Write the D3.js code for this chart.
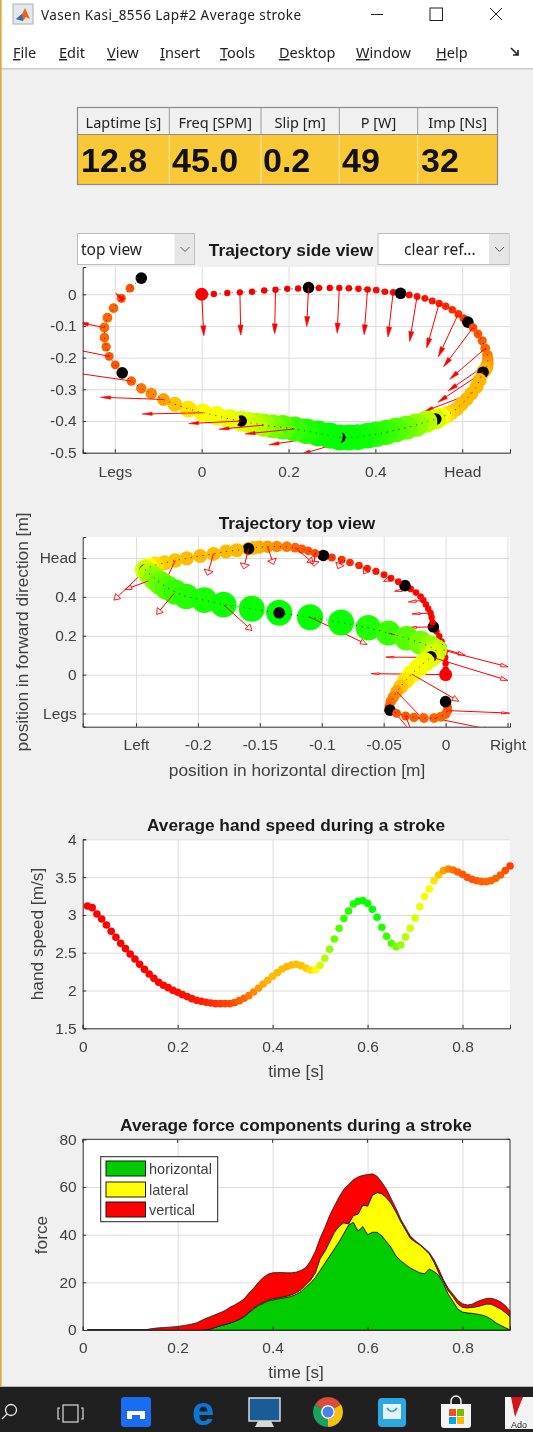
<!DOCTYPE html>
<html><head><meta charset="utf-8">
<script src="https://cdn.jsdelivr.net/npm/d3@7"></script>
<style>
html,body{margin:0;padding:0;background:#f0f0f0;overflow:hidden}
svg{display:block;filter:blur(0.35px)}
text{font-family:"Liberation Sans",Arial,sans-serif}
.ui{font-family:"Noto Sans",sans-serif}
</style></head><body>
<script>
// ---------- data ----------
const timeS=[.01,.02,.03,.04,.05,.06,.07,.08,.09,.10,.11,.12,.13,.14,.15,.16,.17,.18,.19,.20,.21,.22,.23,.24,.25,.26,.27,.28,.29,.30,.31,.32,.33,.34,.35,.36,.37,.38,.39,.40,.41,.42,.43,.44,.45,.46,.47,.48,.49,.50,.51,.52,.53,.54,.55,.56,.57,.58,.59,.60,.61,.62,.63,.64,.65,.66,.67,.68,.69,.70,.71,.72,.73,.74,.75,.76,.77,.78,.79,.80,.81,.82,.83,.84,.85,.86,.87,.88,.89,.90];
const forwardPos=[0,.028,.059,.088,.116,.144,.170,.197,.222,.246,.270,.295,.317,.339,.361,.382,.402,.422,.441,.458,.478,.496,.514,.531,.547,.562,.577,.591,.603,.613,.625,.636,.646,.653,.658,.659,.658,.656,.652,.648,.640,.633,.621,.610,.598,.587,.575,.564,.552,.539,.517,.494,.471,.448,.425,.402,.383,.360,.339,.318,.295,.268,.241,.214,.187,.164,.143,.126,.108,.091,.064,.034,.003,-.031,-.062,-.088,-.116,-.139,-.162,-.183,-.199,-.213,-.220,-.224,-.224,-.217,-.203,-.185,-.165,-.139];
const verticalPos=[0,.001,.004,.006,.008,.012,.014,.017,.018,.021,.020,.020,.020,.019,.017,.015,.013,.008,.006,.003,-.002,-.007,-.013,-.021,-.029,-.038,-.049,-.062,-.076,-.088,-.105,-.125,-.147,-.171,-.192,-.207,-.220,-.231,-.239,-.246,-.271,-.292,-.313,-.331,-.347,-.362,-.373,-.381,-.387,-.394,-.402,-.413,-.421,-.428,-.436,-.442,-.446,-.451,-.452,-.452,-.446,-.439,-.432,-.425,-.420,-.417,-.413,-.409,-.405,-.400,-.394,-.383,-.374,-.362,-.347,-.332,-.313,-.297,-.274,-.248,-.223,-.196,-.166,-.137,-.105,-.074,-.044,-.013,.019,.051];
const lateralPos=[0,0,0,-.0003,-.0008,-.0019,-.0032,-.0051,-.0073,-.0099,-.0105,-.0113,-.0121,-.0140,-.0159,-.0180,-.0202,-.0239,-.0282,-.0328,-.0382,-.0441,-.0497,-.0562,-.0632,-.0699,-.0772,-.0839,-.0919,-.0987,-.1054,-.1108,-.1161,-.1215,-.1282,-.1363,-.1438,-.1505,-.1551,-.1591,-.1685,-.1774,-.1874,-.1981,-.2089,-.2183,-.2269,-.2344,-.2398,-.2425,-.2390,-.2349,-.2304,-.2250,-.2183,-.2094,-.1949,-.1793,-.1565,-.1344,-.1094,-.0844,-.0624,-.0462,-.0315,-.0202,-.0126,-.0078,-.0086,-.0118,-.0167,-.0220,-.0274,-.0323,-.0363,-.0395,-.0422,-.0444,-.0454,-.0449,-.0395,-.0323,-.0255,-.0175,-.0094,-.0038,0,.0016,.0016,0];
const handSpeed=[3.118,3.096,3.012,2.946,2.867,2.783,2.704,2.624,2.554,2.483,2.417,2.347,2.280,2.219,2.161,2.108,2.069,2.038,2.003,1.976,1.945,1.919,1.892,1.870,1.857,1.844,1.835,1.826,1.826,1.826,1.826,1.840,1.866,1.897,1.932,1.981,2.029,2.086,2.135,2.188,2.236,2.285,2.316,2.338,2.347,2.329,2.298,2.272,2.276,2.333,2.426,2.545,2.682,2.823,2.951,3.052,3.145,3.180,3.189,3.153,3.074,2.968,2.836,2.717,2.624,2.580,2.602,2.708,2.823,2.959,3.109,3.242,3.343,3.453,3.528,3.586,3.608,3.594,3.568,3.537,3.497,3.471,3.453,3.440,3.440,3.453,3.484,3.528,3.586,3.647];
const forceHorizontal=[0,0,0,0,0,0,0,0,0,0,0,0,0,0,0,0,0,0,0,0,0,0,0,0,0,.1,.5,1.2,1.8,2.3,2.9,3.6,4.5,5.5,7.2,8.8,10.2,11.2,12.1,12.6,13,13.4,13.7,14.2,15,16.2,18,19.8,22,25,28,31,34,37,40.5,44,45.2,41.5,43.4,40,41,41,39.5,37,34.5,31,29,27.5,26,25,24,23.6,25.6,24.5,23,19.5,15,12,8.8,7.5,7.2,7,6.7,6.3,5.7,4.6,3,2,1,0];
const forceLateral=[0,0,0,0,0,0,0,0,0,0,0,0,0,0,0,0,0,0,0,0,0,0,0,0,0,0,0,0,0,0,0,0,0,.3,.3,.4,.4,.4,.4,.4,.4,.4,.5,.6,.7,.8,1,1.2,2,5,5,6,7,6.5,4.5,.5,2.8,7.2,9,12,15.5,16.7,17.7,18.5,18.5,18.5,16.5,14.5,12.5,12,11.7,10.4,6.4,4,1,1,1.5,2,2.2,2,2.1,2.5,3.1,4,5.2,6.3,6.9,6.9,6.4,5.6];
const forceVertical=[0,0,0,0,0,0,0,0,0,0,0,0,0,.4,.7,.9,1,1.2,1.3,1.5,1.8,2.1,2.5,3,4,4.8,5.2,5.3,5.5,5.9,6.6,6.9,7.2,7.2,8,8.3,9.4,10.4,10.9,11,10.7,10.3,9.8,9.2,8.6,8,7.2,8,9,8.5,10,11,11,12.3,14,16.5,15,15.5,12.5,13.2,9,6.8,4.8,3.5,2,1.5,1,1,1,.5,.3,.3,.5,1,1.5,.5,1,1,1.5,1.5,1.2,1.3,2.1,2.3,2.3,2.4,2.9,2.9,2.9,2.4];
// force arrows in metres, one for every third sample (t = .01, .04, ...)
const arrowForward=[.005,.002,-.002,-.004,-.005,-.008,-.012,-.017,-.029,-.046,-.068,-.082,-.091,-.104,-.110,-.109,-.169,-.057,-.115,-.133,-.140,-.114,-.103,-.121,-.140,-.145,-.150,-.090,-.060,-.013];
const arrowVertical=[-.131,-.135,-.139,-.123,-.143,-.143,-.141,-.142,-.141,-.135,-.124,-.097,-.085,-.095,-.058,-.040,-.060,-.030,-.040,-.055,-.029,-.016,-.013,-.008,-.004,.007,.030,.025,.016,.016];
const arrowLateral=[-.060,-.048,-.034,-.020,-.015,-.012,-.013,-.006,-.003,-.003,-.001,.015,.005,-.004,-.005,-.008,-.028,-.024,-.015,.023,.046,.062,.063,.062,.038,.022,.020,.0055,.0465,.050];
const tableHeaders=["Laptime [s]","Freq [SPM]","Slip [m]","P [W]","Imp [Ns]"];
const tableValues=["12.8","45.0","0.2","49","32"];
const menuItems=["File","Edit","View","Insert","Tools","Desktop","Window","Help"];
const legendNames=["horizontal","lateral","vertical"];
const sideXTicks=[-.2,0,.2,.4,.6], sideXLabels=["Legs","0","0.2","0.4","Head"];
const sideYTicks=[0,-.1,-.2,-.3,-.4,-.5], sideYLabels=["0","-0.1","-0.2","-0.3","-0.4","-0.5"];
const topXTicks=[-.25,-.2,-.15,-.1,-.05,0,.05], topXLabels=["Left","-0.2","-0.15","-0.1","-0.05","0","Right"];
const topYTicks=[-.2,0,.2,.4,.6], topYLabels=["Legs","0","0.2","0.4","Head"];
const timeTicks=[0,.2,.4,.6,.8], timeLabels=["0","0.2","0.4","0.6","0.8"];
const speedTicks=[1.5,2,2.5,3,3.5,4], speedLabels=["1.5","2","2.5","3","3.5","4"];
const forceTicks=[0,20,40,60,80], forceLabels=["0","20","40","60","80"];
const forceColors=["#00cc00","#ffff00","#ff0000"];

// ---------- page ----------
const W=533,H=1432;
const svg=d3.select("body").append("svg").attr("width",W).attr("height",H);
svg.append("rect").attr("width",W).attr("height",H).attr("fill","#f0f0f0");
const defs=svg.append("defs");
const DARK="#404040";

// derived force encodings
const stackKeys=[0,1,2];
const stackRows=timeS.map((t,i)=>({t,0:forceHorizontal[i],1:forceLateral[i],2:forceVertical[i]}));
const stacked=d3.stack().keys(stackKeys)(stackRows);
const totalForce=stacked[2].map(d=>d[1]);
const colorOf=d3.scaleLinear().domain([0,33,66]).range(["#ff0000","#ffff00","#00ff00"]).clamp(true);
const radiusOf=d3.scaleLinear().domain([0,10,24,33,45,65]).range([3.2,4.3,7,9.5,11.5,13]);

// window chrome
function chrome(){
  svg.append("rect").attr("width",W).attr("height",68).attr("fill","#fff");
  svg.append("rect").attr("y",68).attr("width",W).attr("height",1.5).attr("fill","#c9c9c9");
  svg.append("rect").attr("width",1.6).attr("height",1387).attr("fill","#e0a63c");
  const ic=svg.append("g");
  ic.append("rect").attr("x",13).attr("y",4).attr("width",20).attr("height",20).attr("fill","#e4e8ec").attr("stroke","#a8b0b8");
  ic.append("path").attr("d","M16 19 L22 14 L25 8 L30 19 L26 17 L23 21 Z").attr("fill","#e8651e");
  ic.append("path").attr("d","M16 19 L22 14 L23 21 Z").attr("fill","#2a6fb0");
  svg.append("text").attr("class","ui").attr("x",41).attr("y",20).attr("font-size",13.5).attr("fill","#222")
    .attr("textLength",260).text("Vasen Kasi_8556 Lap#2 Average stroke");
  svg.append("path").attr("d","M371 14.5H383").attr("stroke","#222").attr("fill","none");
  svg.append("rect").attr("x",430).attr("y",8).attr("width",12.5).attr("height",12.5).attr("fill","none").attr("stroke","#222");
  svg.append("path").attr("d","M490 8L502 20M502 8L490 20").attr("stroke","#222").attr("fill","none");
  const menuX=[13,59,107,160,220,279,356,436];
  const menu=svg.selectAll("text.menu").data(menuItems).join("text").attr("class","menu ui")
    .attr("x",(d,i)=>menuX[i]).attr("y",58).attr("font-size",14.5).attr("fill","#222");
  menu.append("tspan").attr("text-decoration","underline").text(d=>d[0]);
  menu.append("tspan").text(d=>d.slice(1));
  svg.append("path").attr("d","M511 48L518 55M518 50V55H513").attr("stroke","#222").attr("stroke-width",1.6).attr("fill","none");
}
chrome();

// metric table
function table(){
  const edges=[77.5,169.3,261,339.3,417.7,497.5];
  const g=svg.append("g");
  g.append("rect").attr("x",edges[0]).attr("y",135).attr("width",edges[5]-edges[0]).attr("height",49.5).attr("fill","#f8c836");
  g.append("rect").attr("x",edges[0]).attr("y",107.5).attr("width",edges[5]-edges[0]).attr("height",77).attr("fill","none").attr("stroke","#8c8c8c").attr("stroke-width",1.2);
  g.append("path").attr("d","M77.5 134.5H497.5").attr("stroke","#8c8c8c").attr("stroke-width",1.2);
  edges.slice(1,5).forEach(x=>{
    g.append("path").attr("d",`M${x} 108V134`).attr("stroke","#9a9a9a");
    g.append("path").attr("d",`M${x} 135V184`).attr("stroke","#f8e6b0");
  });
  tableHeaders.forEach((h,i)=>g.append("text").attr("class","ui").attr("x",(edges[i]+edges[i+1])/2).attr("y",128).attr("text-anchor","middle").attr("font-size",14.5).attr("fill","#222").text(h));
  const valX=[81,172,263,342,421];
  tableValues.forEach((v,i)=>g.append("text").attr("x",valX[i]).attr("y",172).attr("font-size",34).attr("font-weight","bold").attr("fill","#111").text(v));
}
table();

// dropdowns
function dropdown(x,w,label,tx){
  const g=svg.append("g");
  g.append("rect").attr("x",x).attr("y",233.5).attr("width",w).attr("height",31).attr("fill","#fff").attr("stroke","#bdbdbd");
  g.append("rect").attr("x",x+w-20).attr("y",234).attr("width",19.5).attr("height",30).attr("fill","#e6e6e6");
  g.append("path").attr("d",`M${x+w-14} 247l4.5 4.5l4.5-4.5`).attr("fill","none").attr("stroke","#555");
  g.append("text").attr("class","ui").attr("x",tx).attr("y",255).attr("font-size",15.5).attr("fill","#222").text(label);
}

// generic axes
function axes(o){
  const g=svg.append("g");
  const [l,r]=o.x.range(), [b,t]=o.y.range();
  g.append("rect").attr("x",l).attr("y",t).attr("width",r-l).attr("height",b-t).attr("fill","#fff");
  const gx=g.append("g").attr("transform",`translate(0,${b})`).call(d3.axisBottom(o.x).tickValues(o.xt).tickSize(-(b-t)).tickFormat(""));
  const gy=g.append("g").attr("transform",`translate(${l},0)`).call(d3.axisLeft(o.y).tickValues(o.yt).tickSize(-(r-l)).tickFormat(""));
  [gx,gy].forEach(a=>{a.select(".domain").remove();a.selectAll("line").attr("stroke","#dcdcdc").attr("stroke-width",1);});
  return g;
}
function frame(o,box){
  const g=svg.append("g");
  const [l,r]=o.x.range(), [b,t]=o.y.range();
  const ax=g.append("g").attr("transform",`translate(0,${b})`).call(d3.axisBottom(o.x).tickValues(o.xt).tickSize(-3.5).tickPadding(o.xpad).tickFormat((d,i)=>o.xl[i]));
  const ay=g.append("g").attr("transform",`translate(${l},0)`).call(d3.axisLeft(o.y).tickValues(o.yt).tickSize(-3.5).tickPadding(6).tickFormat((d,i)=>o.yl[i]));
  [ax,ay].forEach(a=>{
    a.select(".domain").attr("stroke","#333").attr("stroke-width",1);
    a.selectAll("line").attr("stroke","#333");
    a.selectAll("text").attr("font-size",15.5).attr("fill",DARK).attr("font-family","Liberation Sans");
  });
  if(box){
    g.append("path").attr("d",`M${l} ${t}H${r}V${b}`).attr("fill","none").attr("stroke","#333");
    o.xt.forEach(v=>g.append("path").attr("d",`M${o.x(v)} ${t}v3.5`).attr("stroke","#333"));
    o.yt.forEach(v=>g.append("path").attr("d",`M${r} ${o.y(v)}h-3.5`).attr("stroke","#333"));
  }
}
function title(txt,x,y){svg.append("text").attr("x",x).attr("y",y).attr("text-anchor","middle").attr("font-size",17.3).attr("font-weight","bold").attr("fill","#1a1a1a").text(txt);}
function xlabel(txt,x,y){svg.append("text").attr("x",x).attr("y",y).attr("text-anchor","middle").attr("font-size",17.3).attr("fill",DARK).text(txt);}
function ylabel(txt,x,y){svg.append("text").attr("transform",`translate(${x},${y}) rotate(-90)`).attr("text-anchor","middle").attr("font-size",17.3).attr("fill",DARK).text(txt);}

// trajectory view: samples, black tenth-second dots and force arrows in time order
function trajectory(o){
  const cid="clip"+o.id;
  const [l,r]=o.x.range(), [b,t]=o.y.range();
  defs.append("clipPath").attr("id",cid).append("rect").attr("x",l).attr("y",t).attr("width",r-l).attr("height",b-t);
  const items=[];
  const late=[];
  timeS.forEach((tt,i)=>{
    items.push({k:"mark",i});
    if((i+1)%10===0) items.push({k:"black",i});
    if(i%3===0){ (tt>=o.lateFrom?late:items).push({k:"arrow",i,a:i/3}); }
  });
  const g=svg.append("g");
  items.concat(late).forEach(d=>{
    const px=o.x(o.xv[d.i]),py=o.y(o.yv[d.i]);
    if(d.k==="mark"){
      g.append("circle").datum(d).attr("cx",px).attr("cy",py)
        .attr("r",d.i===0?6.5:radiusOf(totalForce[d.i])).attr("fill",colorOf(totalForce[d.i]));
    }else if(d.k==="black"){
      g.append("circle").datum(d).attr("cx",px).attr("cy",py).attr("r",5.8).attr("fill","#000");
    }else{
      const ex=o.x(o.xv[d.i]+o.dx[d.a]),ey=o.y(o.yv[d.i]+o.dy[d.a]);
      const L=Math.hypot(ex-px,ey-py)||1,ux=(ex-px)/L,uy=(ey-py)/L;
      const hl=o.headLen(uy),hw=o.headW(uy);
      const bx=ex-ux*hl,by=ey-uy*hl;
      const a=g.append("g").attr("clip-path",`url(#${cid})`);
      a.append("line").attr("x1",px).attr("y1",py).attr("x2",bx).attr("y2",by).attr("stroke","#ff0000").attr("stroke-width",1);
      a.append("path").attr("d",`M${ex} ${ey}L${bx-uy*hw} ${by+ux*hw}L${bx+uy*hw} ${by-ux*hw}Z`)
        .attr("fill",o.hollow?"none":"#ff0000").attr("stroke","#ff0000").attr("stroke-width",o.hollow?.9:.6);
    }
  });
  const line=d3.line().x((d,i)=>o.x(o.xv[i])).y((d,i)=>o.y(o.yv[i]));
  svg.append("path").attr("d",line(timeS)).attr("fill","none").attr("stroke","#000").attr("stroke-width",.8).attr("stroke-dasharray","1 5");
}

// side view
const sideO={x:d3.scaleLinear().domain([-.274,.71]).range([82.7,510]),y:d3.scaleLinear().domain([-.5,.086]).range([452.7,267]),
  xt:sideXTicks,xl:sideXLabels,yt:sideYTicks,yl:sideYLabels,xpad:13};
axes(sideO);
trajectory({id:"side",x:sideO.x,y:sideO.y,xv:forwardPos,yv:verticalPos,dx:arrowForward,dy:arrowVertical,hollow:false,lateFrom:.64,
  headLen:u=>10,headW:u=>1.5+Math.abs(u)});
frame(sideO,false);
dropdown(77.5,117,"top view",81);
dropdown(378,131,"clear ref...",404);
title("Trajectory side view",291,256);

// top view
const topO={x:d3.scaleLinear().domain([-.293,.052]).range([82.7,510]),y:d3.scaleLinear().domain([-.268,.708]).range([726.7,537]),
  xt:topXTicks,xl:topXLabels,yt:topYTicks,yl:topYLabels,xpad:12};
axes(topO);
trajectory({id:"top",x:topO.x,y:topO.y,xv:lateralPos,yv:forwardPos,dx:arrowLateral,dy:arrowForward,hollow:true,lateFrom:2,
  headLen:u=>8-3*Math.abs(u),headW:u=>.8+4*Math.abs(u)});
frame(topO,false);
title("Trajectory top view",297,529);
xlabel("position in horizontal direction [m]",297,776);
ylabel("position in forward direction [m]",28,632);

// speed
const speedO={x:d3.scaleLinear().domain([0,.9]).range([82.7,510]),y:d3.scaleLinear().domain([1.5,4]).range([1028.3,839.3]),
  xt:timeTicks,xl:timeLabels,yt:speedTicks,yl:speedLabels,xpad:13};
axes(speedO);
frame(speedO,false);
svg.append("g").selectAll("circle").data(timeS).join("circle")
  .attr("cx",d=>speedO.x(d)).attr("cy",(d,i)=>speedO.y(handSpeed[i])).attr("r",3.8).attr("fill",(d,i)=>colorOf(totalForce[i]));
title("Average hand speed during a stroke",296,831);
xlabel("time [s]",296,1077);
ylabel("hand speed [m/s]",43,934);

// force
const forceO={x:d3.scaleLinear().domain([0,.9]).range([82.7,510]),y:d3.scaleLinear().domain([0,80]).range([1330,1139.3]),
  xt:timeTicks,xl:timeLabels,yt:forceTicks,yl:forceLabels,xpad:12};
axes(forceO);
const area=d3.area().x(d=>forceO.x(d.data.t)).y0(d=>forceO.y(d[0])).y1(d=>forceO.y(d[1]));
svg.append("g").selectAll("path").data(stacked).join("path").attr("d",area)
  .attr("fill",(d,i)=>forceColors[i]).attr("stroke","#1a1a1a").attr("stroke-width",.8);
frame(forceO,true);
title("Average force components during a stroke",296,1131);
xlabel("time [s]",296,1378);
ylabel("force",47,1235);
const lg=svg.append("g");
lg.append("rect").attr("x",100.7).attr("y",1156.7).attr("width",117).attr("height",65).attr("fill","#fff").attr("stroke","#222");
const legendY=[1161,1182,1202];
legendNames.forEach((n,i)=>{
  lg.append("rect").attr("x",106).attr("y",legendY[i]).attr("width",39.5).attr("height",15).attr("fill",forceColors[i]).attr("stroke","#1a1a1a");
  lg.append("text").attr("x",149).attr("y",legendY[i]+13).attr("font-size",14.5).attr("fill",DARK).text(n);
});

// taskbar
function taskbar(){
  const y0=1387;
  svg.append("rect").attr("y",y0-1).attr("width",W).attr("height",1).attr("fill","#b8b8b8");
  svg.append("rect").attr("y",y0).attr("width",W).attr("height",H-y0).attr("fill","#202020");
  svg.append("circle").attr("cx",11).attr("cy",1410).attr("r",5.5).attr("fill","none").attr("stroke","#e8e8e8").attr("stroke-width",1.3);
  svg.append("path").attr("d","M7 1414L2 1419").attr("stroke","#e8e8e8").attr("stroke-width",1.3);
  svg.append("rect").attr("x",63).attr("y",1405).attr("width",15).attr("height",17).attr("fill","none").attr("stroke","#ddd").attr("stroke-width",1.2);
  svg.append("path").attr("d","M60 1408h-2v11h2M81 1408h2v11h-2").attr("fill","none").attr("stroke","#ddd").attr("stroke-width",1.2);
  svg.append("rect").attr("x",121).attr("y",1397).attr("width",30).attr("height",30).attr("rx",3).attr("fill","#1a6cf0");
  svg.append("path").attr("d","M127 1419v-8h18v8h-5v-4h-8v4z").attr("fill","#fff");
  svg.append("text").attr("x",203).attr("y",1425).attr("text-anchor","middle").attr("font-size",40).attr("font-weight","bold").attr("fill","#0a78d4").text("e");
  svg.append("rect").attr("x",249).attr("y",1398).attr("width",31).attr("height",23).attr("fill","#1c5c96").attr("stroke","#d8d8d8").attr("stroke-width",1.5);
  svg.append("path").attr("d","M258 1421h13l3 6h-19z").attr("fill","#d8d8d8");
  const c=svg.append("g");
  const arc=d3.arc().innerRadius(7).outerRadius(15);
  [["#dd4b39",-60,60],["#f4c20d",60,180],["#1aa260",180,300]].forEach(s=>c.append("path").attr("transform","translate(328,1412)")
    .attr("d",arc({startAngle:s[1]*Math.PI/180,endAngle:s[2]*Math.PI/180})).attr("fill",s[0]));
  c.append("circle").attr("cx",328).attr("cy",1412).attr("r",7).attr("fill","#fff");
  c.append("circle").attr("cx",328).attr("cy",1412).attr("r",5.5).attr("fill","#4a80f0");
  svg.append("rect").attr("x",378).attr("y",1398).attr("width",28).attr("height",29).attr("rx",4).attr("fill","#2aa8e0");
  svg.append("rect").attr("x",383).attr("y",1404).attr("width",18).attr("height",15).attr("fill","#e4f2fa");
  svg.append("path").attr("d","M387 1408q5 7 10 0").attr("fill","none").attr("stroke","#2aa8e0").attr("stroke-width",1.5);
  svg.append("path").attr("d","M441 1404h30v21a3 3 0 0 1-3 3h-24a3 3 0 0 1-3-3z").attr("fill","#f4f4f4");
  svg.append("path").attr("d","M451 1404v-3a5 5 0 0 1 10 0v3").attr("fill","none").attr("stroke","#f4f4f4").attr("stroke-width",1.5);
  [[449,1409,"#f25022"],[457,1409,"#7fba00"],[449,1417,"#00a4ef"],[457,1417,"#ffb900"]].forEach(s=>
    svg.append("rect").attr("x",s[0]).attr("y",s[1]).attr("width",7).attr("height",7).attr("fill",s[2]));
  svg.append("rect").attr("x",505).attr("y",1397).attr("width",28).attr("height",32).attr("fill","#f4f4f4");
  svg.append("path").attr("d","M511 1397h12l-8 20z").attr("fill","#d4141c");
  svg.append("text").attr("x",511).attr("y",1428).attr("font-size",9).attr("fill","#222").text("Ado");
}
taskbar();
</script>
</body></html>
